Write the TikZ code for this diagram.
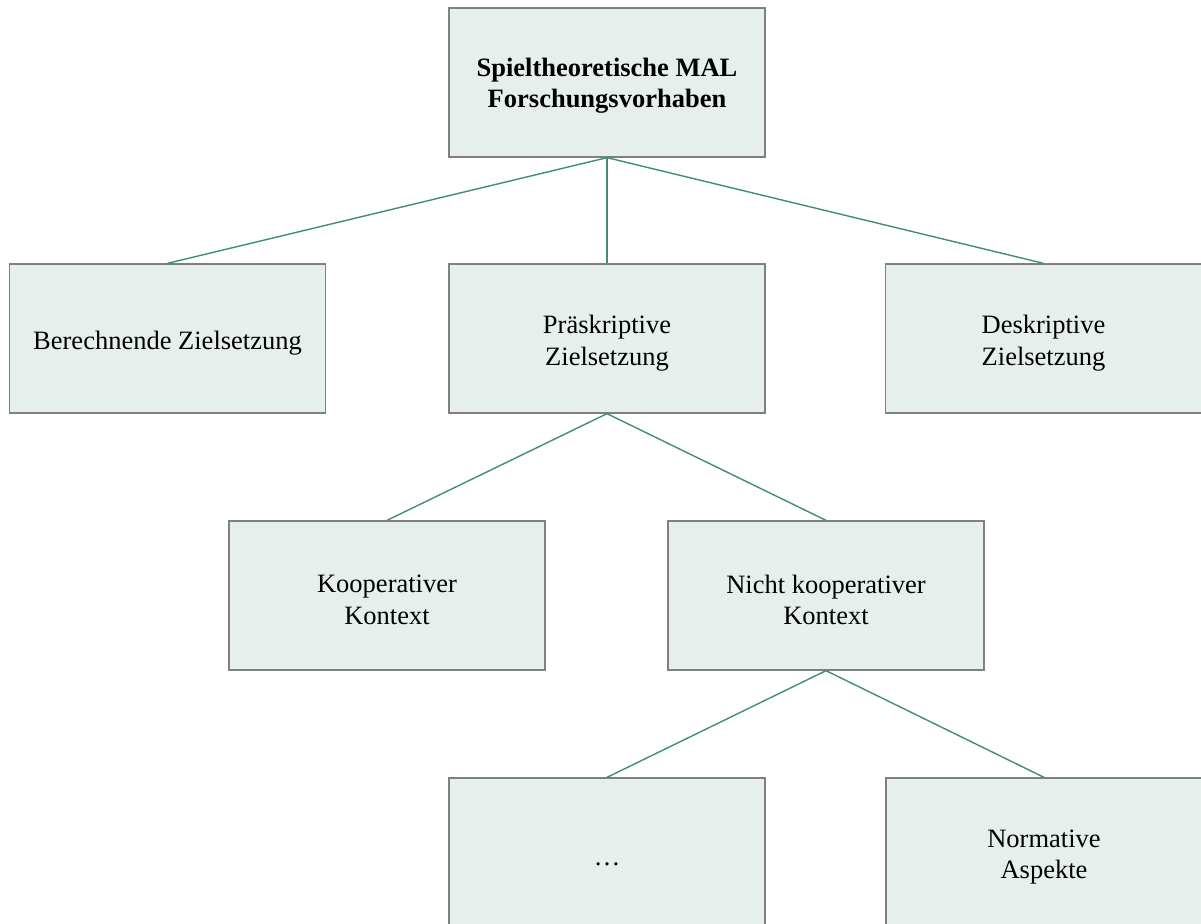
\documentclass[tikz,border=0pt]{standalone}
\usepackage{fontspec}
\setmainfont{Liberation Serif}
\definecolor{boxfill}{HTML}{E6EFEB}
\definecolor{boxline}{HTML}{808080}
\definecolor{linkgreen}{HTML}{3F8F6F}
\begin{document}
\begin{tikzpicture}[x=1pt,y=-1pt,
  goalbox/.style={draw=boxline, line width=1.3pt, fill=boxfill,
    minimum width=316pt, minimum height=149pt, inner sep=0pt},
  goaltext/.style={align=center, inner sep=0pt,
    font=\fontsize{26.5}{31.5}\selectfont},
  link/.style={draw=linkgreen, line width=1.4pt}]
  \useasboundingbox (0,0) rectangle (1201,923);
  \begin{scope}
  \clip (0,0) rectangle (1201,923);
  % boxes of the tree of research goals
  \node[goalbox] (root) at (607,82.5) {};
  \node[goalbox] (calc) at (167.5,338.5) {};
  \node[goalbox] (presc) at (607,338.5) {};
  \node[goalbox] (desc) at (1043.5,338.5) {};
  \node[goalbox] (coop) at (387,595.5) {};
  \node[goalbox] (noncoop) at (826,595.5) {};
  \node[goalbox] (more) at (607,852.5) {};
  \node[goalbox] (norm) at (1044,852.5) {};
  % box labels
  \node[goaltext, font=\fontsize{26.5}{31.5}\selectfont\bfseries] (root-t)
    at ([yshift=-3pt]root.center) {Spieltheoretische MAL\\Forschungsvorhaben};
  \node[goaltext] (calc-t) at ([yshift=-4.5pt]calc.center) {Berechnende Zielsetzung};
  \node[goaltext] (presc-t) at ([yshift=-4.5pt]presc.center) {Präskriptive\\Zielsetzung};
  \node[goaltext] (desc-t) at ([yshift=-4.5pt]desc.center) {Deskriptive\\Zielsetzung};
  \node[goaltext] (coop-t) at ([yshift=-4.5pt]coop.center) {Kooperativer\\Kontext};
  \node[goaltext] (noncoop-t) at ([yshift=-4.5pt]noncoop.center) {Nicht kooperativer\\Kontext};
  \node[goaltext] (more-t) at ([yshift=-12pt]more.center) {…};
  \node[goaltext] (norm-t) at ([yshift=-4.5pt]norm.center) {Normative\\Aspekte};
  % connectors
  \draw[link] (root.south) -- (calc.north);
  \draw[link] (root.south) -- (presc.north);
  \draw[link] (root.south) -- (desc.north);
  \draw[link] (presc.south) -- (coop.north);
  \draw[link] (presc.south) -- (noncoop.north);
  \draw[link] (noncoop.south) -- (more.north);
  \draw[link] (noncoop.south) -- (norm.north);
  \end{scope}
\end{tikzpicture}
\end{document}
